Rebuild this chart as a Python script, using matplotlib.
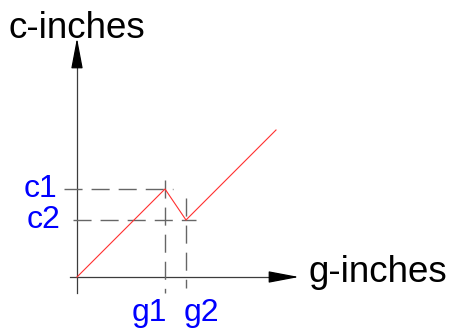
import matplotlib
matplotlib.use("Agg")
import matplotlib.pyplot as plt

# piecewise curve, c-inches against g-inches
g_vals = [0, 4.4, 5.45, 9.95]
c_vals = [0, 4.4, 2.85, 7.35]

# marked points
g_marks = [4.4, 5.45]
c_marks = [4.4, 2.85]
g_labels = ["g1", "g2"]
c_labels = ["c1", "c2"]

plt.rcParams['font.family'] = ['Liberation Sans', 'DejaVu Sans']

fig = plt.figure(figsize=(4.5, 3.35), dpi=100)
ax = fig.add_axes([0, 0, 1, 1])
ax.set_xlim(-3.85, 18.65)
ax.set_ylim(-2.9, 13.85)
ax.axis('off')

axis_col = '#3c3c3c'
dash_col = '#666666'
dash = (13, 6.5)

# axes with arrow heads
arrow = dict(arrowstyle='-|>,head_length=1.9,head_width=0.36', color='black',
             lw=0.9, shrinkA=0, shrinkB=0, mutation_scale=10)
ax.plot([-0.35, 9.9], [0, 0], color=axis_col, lw=0.9)
ax.plot([0, 0], [-0.8, 10.6], color=axis_col, lw=0.9)
ax.annotate('', xy=(11.1, 0), xytext=(9.7, 0), arrowprops=arrow)
ax.annotate('', xy=(0, 11.95), xytext=(0, 10.5), arrowprops=arrow)

# dashed guides
ax.plot([-0.65, g_marks[0] + 0.4], [c_marks[0], c_marks[0]], color=dash_col,
        lw=1, dashes=dash)
ax.plot([-0.2, g_marks[1] + 0.5], [c_marks[1], c_marks[1]], color=dash_col,
        lw=1, dashes=dash)
ax.plot([g_marks[0], g_marks[0]], [c_marks[0] + 0.45, -0.8], color=dash_col,
        lw=1, dashes=dash)
ax.plot([g_marks[1], g_marks[1]], [c_marks[1] + 1.1, -0.55], color=dash_col,
        lw=1, dashes=dash)

# the curve
ax.plot(g_vals, c_vals, color='#ff3030', lw=0.8)

# labels
ax.text(-1.85, c_marks[0], c_labels[0], color='#0000ff', fontsize=23,
        ha='center', va='center')
ax.text(-1.65, c_marks[1], c_labels[1], color='#0000ff', fontsize=23,
        ha='center', va='center')
ax.text(g_marks[0] - 0.8, -1.8, g_labels[0], color='#0000ff', fontsize=23,
        ha='center', va='center')
ax.text(g_marks[1] + 0.75, -1.8, g_labels[1], color='#0000ff', fontsize=23,
        ha='center', va='center')

ax.text(0, 11.95, 'c-inches', fontsize=26.5, ha='center', va='baseline')
ax.text(11.55, -0.25, 'g-inches', fontsize=26.5, ha='left', va='baseline')

fig.savefig('out.png', dpi=100)
